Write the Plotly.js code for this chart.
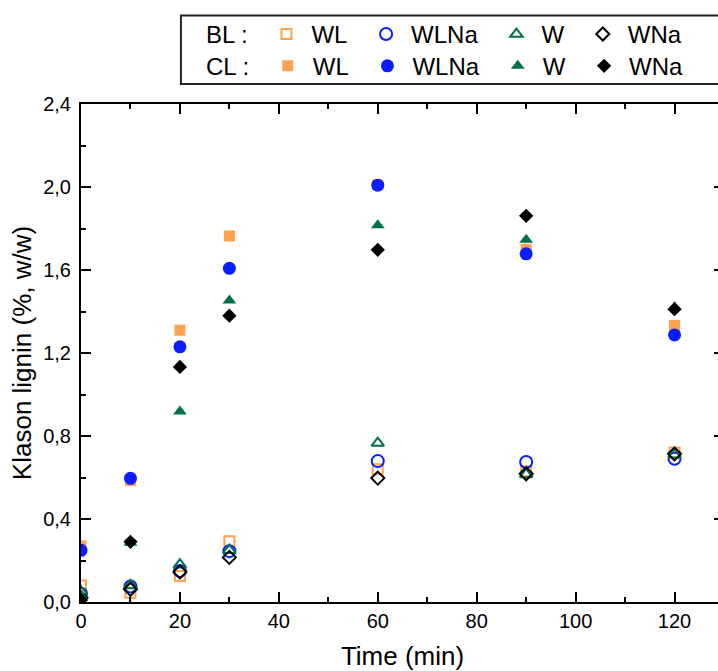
<!DOCTYPE html>
<html>
<head>
<meta charset="utf-8">
<script src="https://cdn.plot.ly/plotly-3.0.1.min.js"></script>
<style>
html, body { margin: 0; padding: 0; overflow: hidden; background: #fff; }
#chart { width: 745px; height: 671px; }
</style>
</head>
<body>
<div id="chart"></div>
<script>
// Reaction time (min)
const time = [0, 10, 20, 30, 60, 90, 120];

// BL (open symbols)
const blWL   = [0.08, 0.045, 0.125, 0.293, 0.64, 0.63, 0.72];
const blWLNa = [0.04, 0.075, 0.15, 0.245, 0.679, 0.675, 0.69];
const blW    = [0.05, 0.08, 0.18, 0.25, 0.766, 0.615, 0.71];
const blWNa  = [0.02, 0.061, 0.145, 0.215, 0.597, 0.618, 0.714];

// CL (filled symbols)
const clWL   = [0.27, 0.585, 1.31, 1.764, 2.01, 1.70, 1.333];
const clWLNa = [0.249, 0.596, 1.23, 1.608, 2.009, 1.678, 1.287];
const clW    = [0.03, 0.285, 0.918, 1.453, 1.816, 1.746, 1.42];
const clWNa  = [0.01, 0.29, 1.133, 1.38, 1.697, 1.861, 1.411];

const seriesNames = ['WL', 'WLNa', 'W', 'WNa'];
const groupLabels = ['BL :', 'CL :'];

const ORANGE = '#FFA24F';
const BLUE = '#0A1EFF';
const GREEN = '#00704F';
const BLACK = '#000000';

const colors = [ORANGE, BLUE, GREEN, BLACK];
const sizes = [11, 13, 12, 11];
const openSymbols = ['square-open', 'circle-open', 'triangle-up-open', 'diamond-open'];
const filledSymbols = ['square', 'circle', 'triangle-up', 'diamond'];

const blData = [blWL, blWLNa, blW, blWNa];
const clData = [clWL, clWLNa, clW, clWNa];

const PAD = '\u00A0\u200A';

const traces = [];
traces.push({x: [null], y: [null], type: 'scatter', mode: 'markers', name: groupLabels[0] + PAD,
  marker: {color: 'rgba(0,0,0,0)', size: 1}, legend: 'legend', hoverinfo: 'skip'});
blData.forEach((d, i) => traces.push({
  x: time, y: d, type: 'scatter', mode: 'markers', name: seriesNames[i] + PAD, legend: 'legend',
  marker: {symbol: openSymbols[i], color: colors[i], size: sizes[i] - 1, line: {width: 2, color: colors[i]}}
}));
traces.push({x: [null], y: [null], type: 'scatter', mode: 'markers', name: groupLabels[1] + PAD,
  marker: {color: 'rgba(0,0,0,0)', size: 1}, legend: 'legend2', hoverinfo: 'skip'});
clData.forEach((d, i) => traces.push({
  x: time, y: d, type: 'scatter', mode: 'markers', name: seriesNames[i] + PAD, legend: 'legend2',
  marker: {symbol: filledSymbols[i], color: colors[i], size: sizes[i], line: {width: 0}}
}));

const W = 745;
const plotLeft = 81, plotRight = 724.5, plotTop = 101, plotBottom = 602;
const pw = plotRight - plotLeft, ph = plotBottom - plotTop;
const px2x = p => (p - plotLeft) / pw;
const py2y = p => (plotBottom - p) / ph;

const legendCommon = {
  orientation: 'h', xanchor: 'left', yanchor: 'middle',
  font: {family: 'Liberation Sans, Arial, sans-serif', size: 24, color: '#000'},
  bgcolor: 'rgba(0,0,0,0)', borderwidth: 0, traceorder: 'normal', itemclick: false,
  itemwidth: 40
};

const axisFont = {family: 'Liberation Sans, Arial, sans-serif', size: 20, color: '#000'};
const titleFont = {family: 'Liberation Sans, Arial, sans-serif', size: 26, color: '#000'};

const layout = {
  width: W, height: 671,
  margin: {l: plotLeft, r: W - plotRight, t: plotTop, b: 671 - plotBottom, pad: 0},
  paper_bgcolor: '#fff', plot_bgcolor: '#fff',
  separators: ', ',
  showlegend: true,
  legend: Object.assign({}, legendCommon, {x: px2x(156), y: py2y(31)}),
  legend2: Object.assign({}, legendCommon, {x: px2x(156), y: py2y(63)}),
  xaxis: {
    range: [0, 130], dtick: 20, tick0: 0,
    ticks: 'inside', ticklen: 10, tickwidth: 2, tickcolor: '#000',
    minor: {ticks: 'inside', ticklen: 5, tickwidth: 2, dtick: 10, tickcolor: '#000'},
    showline: true, linewidth: 2, linecolor: '#000', mirror: 'ticks',
    showgrid: false, zeroline: false,
    tickfont: axisFont,
    title: {text: 'Time (min)', font: titleFont, standoff: 20}
  },
  yaxis: {
    range: [0, 2.4], dtick: 0.4, tick0: 0, tickformat: '.1f',
    ticks: 'inside', ticklen: 10, tickwidth: 2, tickcolor: '#000',
    minor: {ticks: 'inside', ticklen: 5, tickwidth: 2, dtick: 0.2, tickcolor: '#000'},
    showline: true, linewidth: 2, linecolor: '#000', mirror: 'ticks',
    showgrid: false, zeroline: false,
    tickfont: axisFont, ticklabelstandoff: 4,
    title: {text: 'Klason lignin (%, w/w)', font: titleFont, standoff: 4}
  },
  shapes: [{
    type: 'rect', xref: 'paper', yref: 'paper',
    x0: px2x(181), x1: px2x(760), y0: py2y(81), y1: py2y(12),
    line: {color: '#222', width: 2}, fillcolor: 'rgba(0,0,0,0)', layer: 'above'
  }]
};

Plotly.newPlot('chart', traces, layout, {displayModeBar: false, staticPlot: true});
</script>
</body>
</html>
